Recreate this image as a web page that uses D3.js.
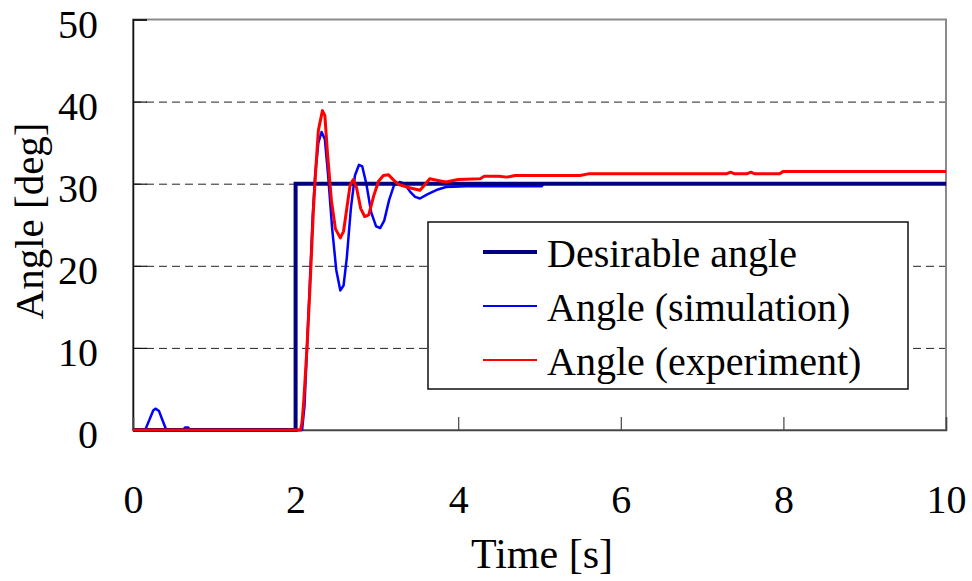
<!DOCTYPE html>
<html lang="en">
<head>
    <meta charset="UTF-8">
    <title>Angle response</title>
    <script src="https://d3js.org/d3.v7.min.js"></script>
    <style>
        body {
            margin: 0;
            background: #fff;
            font-family: "Liberation Serif", "Times New Roman", serif;
        }
        .tick text {
            font-family: "Liberation Serif", "Times New Roman", serif;
            font-size: 40px;
            fill: #000;
        }
        .grid line {
            stroke: #222;
            stroke-dasharray: 8 5;
        }
    </style>
</head>
<body>
    <div id="chart"></div>
    <script>
        // series: [time s, angle deg]
        const desired = [[0, 0], [2.0, 0], [2.0, 30], [10, 30]];

        const simulation = [
            [0, 0], [0.15, 0], [0.2, 1.2], [0.25, 2.4], [0.28, 2.6], [0.32, 2.3], [0.37, 1.0], [0.41, 0],
            [0.62, 0], [0.64, 0.3], [0.68, 0.3], [0.7, 0],
            [2.08, 0], [2.11, 3], [2.14, 10], [2.18, 19], [2.21, 26], [2.24, 31], [2.28, 35], [2.32, 36.3],
            [2.36, 35.4], [2.4, 31], [2.45, 24.5], [2.5, 19.5], [2.55, 17], [2.59, 17.6], [2.63, 21],
            [2.68, 27], [2.73, 31], [2.78, 32.3], [2.82, 32.1], [2.87, 30], [2.93, 26.5], [2.99, 24.8],
            [3.04, 24.6], [3.09, 25.5], [3.15, 28], [3.21, 29.8], [3.28, 30.2], [3.34, 30], [3.41, 29],
            [3.47, 28.4], [3.53, 28.2], [3.62, 28.7], [3.75, 29.3], [3.85, 29.6], [4.1, 29.7],
            [5.03, 29.7], [5.05, 30], [10, 30]
        ];

        const experiment = [
            [0, 0], [2.06, 0], [2.08, 1], [2.1, 3.5], [2.14, 10], [2.18, 18], [2.22, 27], [2.25, 32],
            [2.28, 36.5], [2.33, 38.9], [2.36, 38.3], [2.39, 34], [2.44, 28], [2.49, 24.5], [2.55, 23.4],
            [2.59, 24.2], [2.63, 27], [2.67, 29.8], [2.71, 30.5], [2.75, 29.5], [2.8, 27], [2.85, 26],
            [2.9, 26.2], [2.96, 28.5], [3.02, 30.3], [3.08, 31], [3.14, 31.1], [3.2, 30.5], [3.27, 29.9],
            [3.4, 29.5], [3.53, 29.2], [3.6, 30], [3.65, 30.6], [3.75, 30.4], [3.85, 30.2], [4.0, 30.5],
            [4.27, 30.6], [4.32, 30.9], [4.5, 30.9], [4.6, 30.8], [4.7, 31.0], [5.5, 31.0], [5.6, 31.2],
            [7.3, 31.2], [7.35, 31.4], [7.4, 31.2], [7.55, 31.2], [7.6, 31.4], [7.65, 31.2], [7.95, 31.2],
            [8.0, 31.5], [10, 31.5]
        ];

        const xTicks = [0, 2, 4, 6, 8, 10];
        const yTicks = [0, 10, 20, 30, 40, 50];
        const legendLabels = ["Desirable angle", "Angle (simulation)", "Angle (experiment)"];
        const colors = ["#000080", "#0000ff", "#ff0000"];

        const margin = { top: 19.5, right: 26, bottom: 151, left: 133 };
        const width = 972 - margin.left - margin.right;
        const height = 581 - margin.top - margin.bottom;

        const svg = d3.select("#chart")
            .append("svg")
            .attr("width", 972)
            .attr("height", 581);

        const g = svg.append("g")
            .attr("transform", `translate(${margin.left},${margin.top})`);

        const x = d3.scaleLinear().domain([0, 10]).range([0, width]);
        const y = d3.scaleLinear().domain([0, 50]).range([height, 0]);

        // dashed gridlines
        g.append("g")
            .attr("class", "grid")
            .call(d3.axisLeft(y).tickValues([10, 20, 30, 40]).tickSize(-width).tickFormat(""))
            .call(s => s.select(".domain").remove());

        // plot frame
        g.append("rect")
            .attr("width", width)
            .attr("height", height)
            .attr("fill", "none")
            .attr("stroke", "#8a8a8a")
            .attr("stroke-width", 2);

        // y axis, ticks inside
        g.append("g")
            .call(d3.axisLeft(y).tickValues(yTicks).tickSize(-14).tickPadding(35))
            .call(s => s.select(".domain").attr("stroke", "#111").attr("stroke-width", 1.5))
            .call(s => s.selectAll(".tick line").attr("stroke", "#111").attr("stroke-width", 1.2))
            .call(s => s.selectAll(".tick text").attr("dy", 17.5).attr("y", 0));

        // x axis, ticks inside
        g.append("g")
            .attr("transform", `translate(0,${height})`)
            .call(d3.axisBottom(x).tickValues(xTicks).tickSize(-13).tickPadding(0))
            .call(s => s.select(".domain").attr("stroke", "#444").attr("stroke-width", 1.5))
            .call(s => s.selectAll(".tick line").attr("stroke", "#444").attr("stroke-width", 1.2))
            .call(s => s.selectAll(".tick text").attr("y", 83).attr("dy", null));

        const line = d3.line()
            .x(d => x(d[0]))
            .y(d => y(d[1]));

        g.append("path")
            .datum(simulation)
            .attr("fill", "none")
            .attr("stroke", colors[1])
            .attr("stroke-width", 2.5)
            .attr("stroke-linejoin", "round")
            .attr("d", line);

        g.append("path")
            .datum(desired)
            .attr("fill", "none")
            .attr("stroke", colors[0])
            .attr("stroke-width", 4)
            .attr("d", line);

        g.append("path")
            .datum(experiment)
            .attr("fill", "none")
            .attr("stroke", colors[2])
            .attr("stroke-width", 3)
            .attr("stroke-linejoin", "round")
            .attr("d", line);

        // legend
        const legend = svg.append("g").attr("transform", "translate(428,222)");
        legend.append("rect")
            .attr("width", 480)
            .attr("height", 167)
            .attr("fill", "#fff")
            .attr("stroke", "#111")
            .attr("stroke-width", 1.5);

        const widths = [4, 2, 2];
        legendLabels.forEach((label, i) => {
            const cy = 30 + i * 54;
            legend.append("line")
                .attr("x1", 55).attr("x2", 109)
                .attr("y1", cy).attr("y2", cy)
                .attr("stroke", colors[i])
                .attr("stroke-width", widths[i]);
            legend.append("text")
                .attr("x", 119)
                .attr("y", cy + 15)
                .attr("font-size", 40)
                .text(label);
        });

        // axis titles
        svg.append("text")
            .attr("x", 542)
            .attr("y", 568)
            .attr("text-anchor", "middle")
            .attr("font-size", 42)
            .text("Time [s]");

        svg.append("text")
            .attr("transform", "translate(43,221) rotate(-90)")
            .attr("text-anchor", "middle")
            .attr("font-size", 41)
            .text("Angle [deg]");
    </script>
</body>
</html>
